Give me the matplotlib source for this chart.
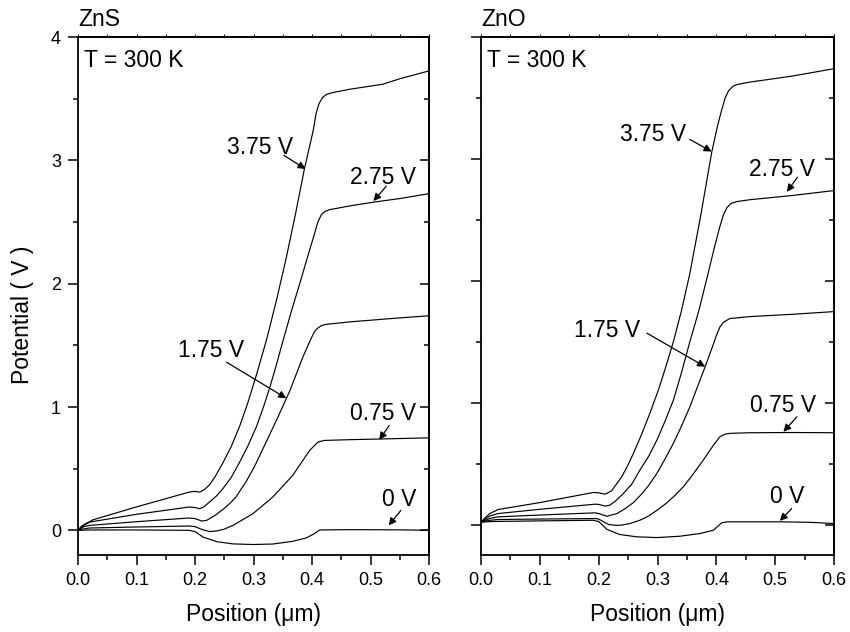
import matplotlib
matplotlib.use("Agg")
import matplotlib.pyplot as plt
import numpy as np
from matplotlib.ticker import MultipleLocator

plt.rcParams['font.family'] = ['Liberation Sans', 'DejaVu Sans']

# ---- ZnS: Potential vs Position, bias voltages ----
zns_x_0v = [0, 0.02, 0.1, 0.19, 0.2, 0.214, 0.237, 0.265, 0.299, 0.333, 0.367, 0.39, 0.404, 0.413, 0.45, 0.5, 0.55, 0.6]
zns_y_0v = [0, 0.003, 0.003, 0.0, -0.01, -0.055, -0.092, -0.11, -0.115, -0.111, -0.089, -0.062, -0.027, 0.003, 0.005, 0.005, 0.004, 0.0]

zns_x_075 = [0, 0.01, 0.02, 0.1, 0.19, 0.2, 0.213, 0.225, 0.237, 0.25, 0.265, 0.299, 0.333, 0.367, 0.396, 0.41, 0.421, 0.464, 0.53, 0.6]
zns_y_075 = [0, 0.012, 0.019, 0.027, 0.035, 0.03, 0.005, -0.01, -0.005, 0.01, 0.04, 0.135, 0.27, 0.445, 0.648, 0.715, 0.729, 0.735, 0.742, 0.75]

zns_x_175 = [0, 0.01, 0.02, 0.1, 0.19, 0.2, 0.212, 0.22, 0.234, 0.248, 0.26, 0.27, 0.288, 0.302, 0.316, 0.339, 0.362, 0.384, 0.396, 0.404, 0.41, 0.416, 0.424, 0.464, 0.53, 0.6]
zns_y_175 = [0, 0.03, 0.04, 0.07, 0.10, 0.095, 0.075, 0.081, 0.12, 0.17, 0.22, 0.27, 0.40, 0.52, 0.66, 0.89, 1.13, 1.40, 1.53, 1.61, 1.64, 1.66, 1.67, 1.69, 1.715, 1.74]

zns_x_275 = [0, 0.01, 0.02, 0.1, 0.19, 0.2, 0.208, 0.215, 0.225, 0.237, 0.248, 0.262, 0.276, 0.29, 0.305, 0.317, 0.328, 0.339, 0.35, 0.365, 0.379, 0.392, 0.404, 0.41, 0.416, 0.422, 0.43, 0.464, 0.504, 0.55, 0.6]
zns_y_275 = [0, 0.04, 0.067, 0.13, 0.189, 0.185, 0.175, 0.19, 0.23, 0.28, 0.34, 0.43, 0.55, 0.68, 0.84, 1.0, 1.16, 1.34, 1.53, 1.78, 2.0, 2.21, 2.40, 2.50, 2.56, 2.585, 2.60, 2.63, 2.66, 2.69, 2.73]

zns_x_375 = [0, 0.005, 0.011, 0.026, 0.1, 0.19, 0.199, 0.208, 0.216, 0.225, 0.235, 0.248, 0.262, 0.276, 0.29, 0.305, 0.322, 0.339, 0.356, 0.372, 0.387, 0.402, 0.407, 0.412, 0.418, 0.425, 0.436, 0.464, 0.521, 0.549, 0.6]
zns_y_375 = [0, 0.03, 0.049, 0.086, 0.19, 0.31, 0.316, 0.31, 0.33, 0.37, 0.44, 0.55, 0.68, 0.84, 1.03, 1.26, 1.54, 1.86, 2.21, 2.57, 2.93, 3.24, 3.38, 3.46, 3.51, 3.535, 3.55, 3.576, 3.617, 3.66, 3.725]

# ---- ZnO ----
zno_x_0v = [0, 0.02, 0.1, 0.19, 0.2, 0.214, 0.236, 0.265, 0.299, 0.338, 0.372, 0.395, 0.409, 0.418, 0.508, 0.56, 0.6]
zno_y_0v = [0.02, 0.025, 0.03, 0.035, 0.025, -0.04, -0.082, -0.101, -0.107, -0.096, -0.074, -0.047, 0.014, 0.022, 0.022, 0.018, 0.008]

zno_x_075 = [0, 0.015, 0.029, 0.1, 0.194, 0.2, 0.217, 0.23, 0.239, 0.253, 0.27, 0.285, 0.30, 0.315, 0.33, 0.344, 0.36, 0.378, 0.395, 0.406, 0.414, 0.423, 0.457, 0.53, 0.6]
zno_y_075 = [0.02, 0.035, 0.041, 0.045, 0.049, 0.045, 0.0, -0.007, -0.005, 0.008, 0.035, 0.07, 0.12, 0.175, 0.24, 0.31, 0.41, 0.53, 0.65, 0.72, 0.74, 0.748, 0.753, 0.755, 0.753]

zno_x_175 = [0, 0.015, 0.029, 0.1, 0.194, 0.2, 0.214, 0.231, 0.245, 0.259, 0.272, 0.285, 0.299, 0.313, 0.327, 0.341, 0.355, 0.368, 0.381, 0.392, 0.40, 0.406, 0.412, 0.423, 0.457, 0.53, 0.6]
zno_y_175 = [0.02, 0.05, 0.063, 0.078, 0.096, 0.09, 0.068, 0.09, 0.13, 0.18, 0.245, 0.32, 0.42, 0.54, 0.666, 0.81, 0.966, 1.13, 1.295, 1.44, 1.55, 1.62, 1.66, 1.69, 1.706, 1.725, 1.747]

zno_x_275 = [0, 0.015, 0.029, 0.1, 0.194, 0.2, 0.211, 0.219, 0.228, 0.242, 0.256, 0.27, 0.285, 0.299, 0.313, 0.327, 0.341, 0.355, 0.37, 0.384, 0.396, 0.406, 0.412, 0.418, 0.425, 0.435, 0.457, 0.53, 0.6]
zno_y_275 = [0.02, 0.07, 0.09, 0.125, 0.167, 0.165, 0.151, 0.159, 0.19, 0.255, 0.33, 0.446, 0.56, 0.693, 0.85, 1.02, 1.25, 1.5, 1.75, 2.02, 2.26, 2.445, 2.54, 2.6, 2.635, 2.65, 2.665, 2.70, 2.74]

zno_x_375 = [0, 0.008, 0.015, 0.029, 0.1, 0.191, 0.2, 0.211, 0.222, 0.231, 0.239, 0.249, 0.259, 0.273, 0.287, 0.302, 0.316, 0.327, 0.341, 0.355, 0.374, 0.392, 0.402, 0.409, 0.415, 0.421, 0.428, 0.435, 0.457, 0.53, 0.6]
zno_y_375 = [0.02, 0.06, 0.09, 0.123, 0.18, 0.263, 0.26, 0.249, 0.277, 0.337, 0.39, 0.48, 0.583, 0.74, 0.912, 1.11, 1.323, 1.5, 1.76, 2.06, 2.55, 3.05, 3.27, 3.40, 3.50, 3.56, 3.595, 3.61, 3.63, 3.68, 3.74]

# labels: text, text x, text baseline y, arrow tail, arrow head
zns_labels = ["3.75 V", "2.75 V", "1.75 V", "0.75 V", "0 V"]
zns_text_xy = [(0.312, 3.05), (0.522, 2.807), (0.228, 1.403), (0.521, 0.896), (0.549, 0.194)]
zns_tail = [(0.352, 3.04), (0.527, 2.79), (0.254, 1.363), (0.532, 0.85), (0.552, 0.162)]
zns_head = [(0.389, 2.93), (0.505, 2.67), (0.356, 1.071), (0.515, 0.734), (0.531, 0.04)]

zno_labels = ["3.75 V", "2.75 V", "1.75 V", "0.75 V", "0 V"]
zno_text_xy = [(0.292, 3.15), (0.511, 2.862), (0.214, 1.537), (0.513, 0.925), (0.52, 0.18)]
zno_tail = [(0.355, 3.16), (0.538, 2.85), (0.282, 1.57), (0.537, 0.884), (0.528, 0.131)]
zno_head = [(0.392, 3.06), (0.52, 2.73), (0.381, 1.295), (0.514, 0.761), (0.508, 0.03)]

xticks = [0.0, 0.1, 0.2, 0.3, 0.4, 0.5, 0.6]
xticklabels = ["0.0", "0.1", "0.2", "0.3", "0.4", "0.5", "0.6"]
yticks = [0, 1, 2, 3, 4]


def panel(ax, curves, name, labels, text_xy, tails, heads, ylo, show_y):
    for xs, ys in curves:
        ax.plot(xs, ys, color="black", lw=0.85)
    ax.set_xlim(0, 0.6)
    ax.set_ylim(ylo, 4)
    ax.set_xticks(xticks)
    ax.set_xticklabels(xticklabels)
    ax.xaxis.set_minor_locator(MultipleLocator(0.05))
    ax.set_yticks(yticks)
    ax.yaxis.set_minor_locator(MultipleLocator(0.5))
    ax.tick_params(which="major", direction="out", length=7.2, width=1.1, labelsize=13, pad=5)
    ax.tick_params(which="minor", direction="out", length=3.6, width=1.1)
    if not show_y:
        ax.set_yticklabels([])
    for s in ax.spines.values():
        s.set_linewidth(1.3)

    # right side ticks point inward
    r = ax.secondary_yaxis("right")
    r.set_yticks(yticks)
    r.yaxis.set_minor_locator(MultipleLocator(0.5))
    r.tick_params(which="major", direction="in", length=6.5, width=1.1, labelright=False)
    r.tick_params(which="minor", direction="in", length=3.6, width=1.1)
    r.spines["right"].set_linewidth(1.3)

    # short ticks on the top axis
    t = ax.secondary_xaxis("top")
    t.set_xticks(xticks)
    t.xaxis.set_minor_locator(MultipleLocator(0.05))
    t.tick_params(which="both", direction="out", length=2, width=0.7, labeltop=False)
    t.spines["top"].set_linewidth(1.3)

    ax.text(0, 1.021, name, transform=ax.transAxes, fontsize=16.5, va="baseline", ha="left")
    ax.text(0.017, 0.9427, "T = 300 K", transform=ax.transAxes, fontsize=16.5, va="baseline", ha="left")

    for lab, (tx, ty), tail, head in zip(labels, text_xy, tails, heads):
        ax.text(tx, ty, lab, fontsize=16.5, ha="center", va="baseline")
        ax.annotate("", xy=head, xytext=tail,
                    arrowprops=dict(arrowstyle="-|>", color="black", lw=0.9,
                                    mutation_scale=11, shrinkA=0, shrinkB=0))

    ax.set_xlabel("Position (\u03bcm)", fontsize=16.5)
    ax.xaxis.set_label_coords(0.5, -0.092)


fig = plt.figure(figsize=(8.5, 6.32), dpi=100)
ax1 = fig.add_axes([78 / 850, 77 / 632, 351 / 850, 518 / 632])
ax2 = fig.add_axes([481 / 850, 77 / 632, 353 / 850, 518 / 632])

zns_curves = [(zns_x_0v, zns_y_0v), (zns_x_075, zns_y_075), (zns_x_175, zns_y_175),
              (zns_x_275, zns_y_275), (zns_x_375, zns_y_375)]
zno_curves = [(zno_x_0v, zno_y_0v), (zno_x_075, zno_y_075), (zno_x_175, zno_y_175),
              (zno_x_275, zno_y_275), (zno_x_375, zno_y_375)]

panel(ax1, zns_curves, "ZnS", zns_labels, zns_text_xy, zns_tail, zns_head, -0.2, True)
panel(ax2, zno_curves, "ZnO", zno_labels, zno_text_xy, zno_tail, zno_head, -0.25, False)

ax1.set_ylabel("Potential ( V )", fontsize=16.5)
ax1.yaxis.set_label_coords(-0.125, 0.463)

fig.savefig("out.png", dpi=100)
